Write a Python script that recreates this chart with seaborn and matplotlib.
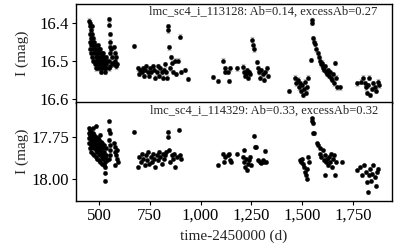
import numpy as np
import pandas as pd
import seaborn as sns
import matplotlib.pyplot as plt
from matplotlib.ticker import FuncFormatter

# star 1: lmc_sc4_i_113128  (time-2450000, I mag)
top_s1 = [(452,16.395),(454,16.41),(455,16.43),(456,16.45),(457,16.47),(458,16.40),(460,16.42),(461,16.44),(462,16.48),(463,16.46),
          (465,16.41),(466,16.43),(467,16.45),(468,16.49),(470,16.44),(471,16.47),(472,16.50),(473,16.46),(475,16.48),(477,16.45),
          (478,16.50),(479,16.47),(480,16.51),(482,16.46),(483,16.49),(484,16.48),(486,16.52),(488,16.47),(489,16.50),(490,16.49),
          (491,16.51),(493,16.46),(494,16.48),(495,16.50),(497,16.52),(499,16.47),(500,16.49),(501,16.51),(503,16.48),(505,16.50),
          (506,16.52),(507,16.47),(509,16.49),(511,16.51),(512,16.53),(513,16.48),(515,16.50),(517,16.52),(518,16.49),(519,16.51),
          (521,16.48),(523,16.50),(524,16.52),(525,16.51),(527,16.49),(529,16.53),(530,16.50),(531,16.52),(533,16.51),(535,16.49),
          (537,16.52),(540,16.50),
          (550,16.39),(551,16.405),(552,16.43),(553,16.45),(552,16.465),(554,16.48),(551,16.50),(553,16.515),(549,16.52),
          (560,16.47),(562,16.49),(565,16.505),(568,16.51),(575,16.465),(577,16.48),(580,16.50),(583,16.515),(586,16.49),(588,16.51)]
top_s2 = [(672,16.461),(690,16.52),(697,16.535),(703,16.525),(710,16.53),(715,16.52),(720,16.54),(727,16.525),(733,16.515),(740,16.53),
          (745,16.54),(752,16.52),(758,16.53),(765,16.515),(772,16.525),(778,16.545),(785,16.53),(790,16.515),(796,16.54),(802,16.52),
          (808,16.53),(815,16.545),(820,16.525),(826,16.51),(832,16.53),(837,16.545),(838,16.41),(842,16.42),(845,16.465),(850,16.52),
          (856,16.49),(860,16.505),(865,16.53),(872,16.50),(880,16.535),(890,16.50),(898,16.437),(905,16.53),(923,16.525),(938,16.548)]
top_s3 = [(1061,16.543),(1086,16.553),(1110,16.50),(1118,16.52),(1122,16.53),(1135,16.53),(1140,16.553),(1145,16.52),(1179,16.52),(1208,16.516),
          (1212,16.53),(1218,16.54),(1222,16.535),(1228,16.525),(1232,16.545),(1238,16.53),(1242,16.535),(1255,16.445),(1260,16.46),(1265,16.47),
          (1277,16.503),(1283,16.52),(1288,16.53),(1292,16.545),(1298,16.525),(1305,16.535),(1312,16.55),(1318,16.53),(1325,16.52),(1330,16.54)]
top_s4 = [(1435,16.58),(1465,16.545),(1472,16.56),(1478,16.55),(1485,16.57),(1490,16.56),(1495,16.58),(1500,16.565),(1505,16.59),(1510,16.575),
          (1515,16.555),(1520,16.585),(1525,16.57),(1528,16.545),(1543,16.498),(1548,16.393),(1550,16.40),(1553,16.44),(1558,16.45),(1563,16.455),
          (1570,16.47),(1578,16.48),(1583,16.49),(1588,16.50),(1592,16.51),(1596,16.505),(1600,16.515),(1604,16.52),(1608,16.525),(1612,16.515),
          (1616,16.53),(1620,16.535),(1625,16.525),(1630,16.54),(1635,16.53),(1640,16.545),(1645,16.55),(1650,16.535),(1655,16.56),(1661,16.506),
          (1665,16.545),(1672,16.57),(1686,16.57)]
top_s5 = [(1770,16.56),(1790,16.555),(1800,16.545),(1808,16.56),(1815,16.57),(1820,16.585),(1825,16.565),(1830,16.545),(1835,16.59),(1842,16.575),
          (1850,16.56),(1858,16.57),(1865,16.58),(1872,16.555),(1880,16.565)]

# star 2: lmc_sc4_i_114329
bot_s1 = [(449,17.70),(451,17.73),(452,17.76),(453,17.79),(455,17.82),(456,17.71),(458,17.74),(459,17.77),(460,17.80),(462,17.84),
          (463,17.72),(465,17.75),(466,17.78),(468,17.81),(469,17.85),(471,17.73),(472,17.76),(474,17.79),(475,17.82),(477,17.86),
          (478,17.74),(480,17.77),(481,17.80),(483,17.83),(484,17.87),(486,17.75),(487,17.78),(489,17.81),(490,17.84),(492,17.88),
          (493,17.76),(495,17.79),(496,17.82),(498,17.85),(499,17.89),(501,17.77),(503,17.80),(504,17.83),(506,17.86),(507,17.90),
          (509,17.78),(511,17.81),(512,17.84),(514,17.87),(515,17.91),(517,17.79),(519,17.82),(520,17.85),(522,17.88),(523,17.92),
          (525,17.80),(527,17.84),(528,17.87),(530,17.90),(531,17.93),(530,17.965),(531,18.01),(534,17.82),(536,17.86),(538,17.89),
          (470,17.70),(485,17.69),(505,17.74),
          (549,17.66),(550,17.71),(552,17.73),(551,17.77),(553,17.80),(552,17.83),(554,17.86),(550,17.88),
          (575,17.79),(578,17.81),(581,17.84),(584,17.86),(587,17.83),(590,17.88),(593,17.90),(580,17.92)]
bot_s2 = [(672,17.72),(692,17.93),(698,17.87),(705,17.90),(712,17.85),(718,17.88),(725,17.92),(730,17.86),(736,17.89),(742,17.84),
          (748,17.91),(754,17.87),(760,17.90),(766,17.85),(772,17.88),(778,17.93),(784,17.86),(790,17.89),(796,17.84),(802,17.87),
          (808,17.91),(814,17.85),(820,17.88),(826,17.86),(832,17.84),(840,17.72),(842,17.75),(846,17.83),(852,17.90),(858,17.86),
          (864,17.88),(870,17.85),(876,17.93),(884,17.87),(894,17.71),(900,17.86),(906,17.88)]
bot_s3 = [(1086,17.92),(1110,17.85),(1114,17.90),(1120,17.87),(1135,17.86),(1140,17.85),(1143,17.89),(1148,17.90),(1179,17.85),(1208,17.87),
          (1212,17.83),(1216,17.90),(1220,17.93),(1224,17.88),(1228,17.95),(1232,17.91),(1238,17.89),(1245,17.87),(1250,17.92),(1263,17.745),
          (1268,17.81),(1275,17.81),(1283,17.89),(1290,17.90),(1298,17.905),(1305,17.89),(1312,17.90),(1317,17.835),(1324,17.90)]
bot_s4 = [(1490,17.89),(1495,17.90),(1500,17.88),(1505,17.91),(1510,17.93),(1515,17.96),(1520,17.98),(1522,18.00),(1525,17.94),(1530,17.87),
          (1535,17.90),(1548,17.64),(1550,17.655),(1552,17.67),(1553,17.73),(1560,17.73),(1573,17.79),(1580,17.80),(1587,17.82),(1590,17.85),
          (1595,17.87),(1600,17.83),(1605,17.89),(1610,17.86),(1612,17.98),(1615,17.90),(1620,17.88),(1625,17.92),(1630,17.87),(1635,17.90),
          (1640,17.85),(1645,17.93),(1650,17.88),(1655,17.86),(1661,17.98),(1665,17.90),(1695,17.90)]
bot_s5 = [(1770,17.95),(1785,17.93),(1795,17.98),(1805,17.92),(1812,17.96),(1818,18.02),(1824,18.08),(1828,17.98),(1833,17.94),(1838,18.01),
          (1845,17.97),(1850,17.92),(1856,17.99),(1862,18.04),(1868,17.96),(1875,17.94)]

err_top = 0.006
err_bot = 0.009

labels = ["lmc_sc4_i_113128: Ab=0.14, excessAb=0.27",
          "lmc_sc4_i_114329: Ab=0.33, excessAb=0.32"]
yticks_top = [16.4, 16.5, 16.6]
yticks_bot = [17.75, 18.00]
xticks = [500, 750, 1000, 1250, 1500, 1750]


def to_frame(*seasons):
    rows = [p for s in seasons for p in s]
    return pd.DataFrame(rows, columns=["t", "mag"])


def draw_panel(ax, df, err, label, yticks, ylim, yfmt):
    ax.errorbar(df.t, df.mag, yerr=err, fmt="none", ecolor="#c4c4c4",
                elinewidth=0.8, capsize=1.5, capthick=0.8, zorder=1)
    sns.scatterplot(data=df, x="t", y="mag", ax=ax, color="black", s=11,
                    linewidth=0, zorder=2)
    ax.set_ylim(*ylim)
    ax.set_yticks(yticks)
    ax.yaxis.set_major_formatter(FuncFormatter(lambda v, p: yfmt.format(v)))
    ax.set_ylabel("I (mag)", fontsize=11)
    ax.set_xlabel("")
    ax.text(0.955, 0.92, label, transform=ax.transAxes, ha="right", va="center",
            fontsize=9)


sns.set_theme(style="ticks")
plt.rcParams["font.family"] = ["Liberation Serif", "DejaVu Serif"]
plt.rcParams["axes.edgecolor"] = "black"

fig, (ax1, ax2) = plt.subplots(2, 1, sharex=True, figsize=(4, 2.5), dpi=100)
fig.subplots_adjust(left=0.19, right=0.98, top=0.984, bottom=0.196, hspace=0)

draw_panel(ax1, to_frame(top_s1, top_s2, top_s3, top_s4, top_s5), err_top,
           labels[0], yticks_top, (16.61, 16.351), "{:.1f}")
draw_panel(ax2, to_frame(bot_s1, bot_s2, bot_s3, bot_s4, bot_s5), err_bot,
           labels[1], yticks_bot, (18.131, 17.548), "{:.2f}")

ax2.set_xlim(387, 1942)
ax2.set_xticks(xticks)
ax2.xaxis.set_major_formatter(FuncFormatter(lambda v, p: "{:,.0f}".format(v)))
ax2.set_xlabel("time-2450000 (d)", fontsize=11)
ax1.tick_params(axis="x", bottom=False)

for ax in (ax1, ax2):
    ax.tick_params(labelsize=12, length=3, width=0.8, colors="black", pad=2)
    for sp in ax.spines.values():
        sp.set_linewidth(1.0)
    ax.yaxis.set_label_coords(-0.15, 0.5)

fig.savefig("out.png", dpi=100)
